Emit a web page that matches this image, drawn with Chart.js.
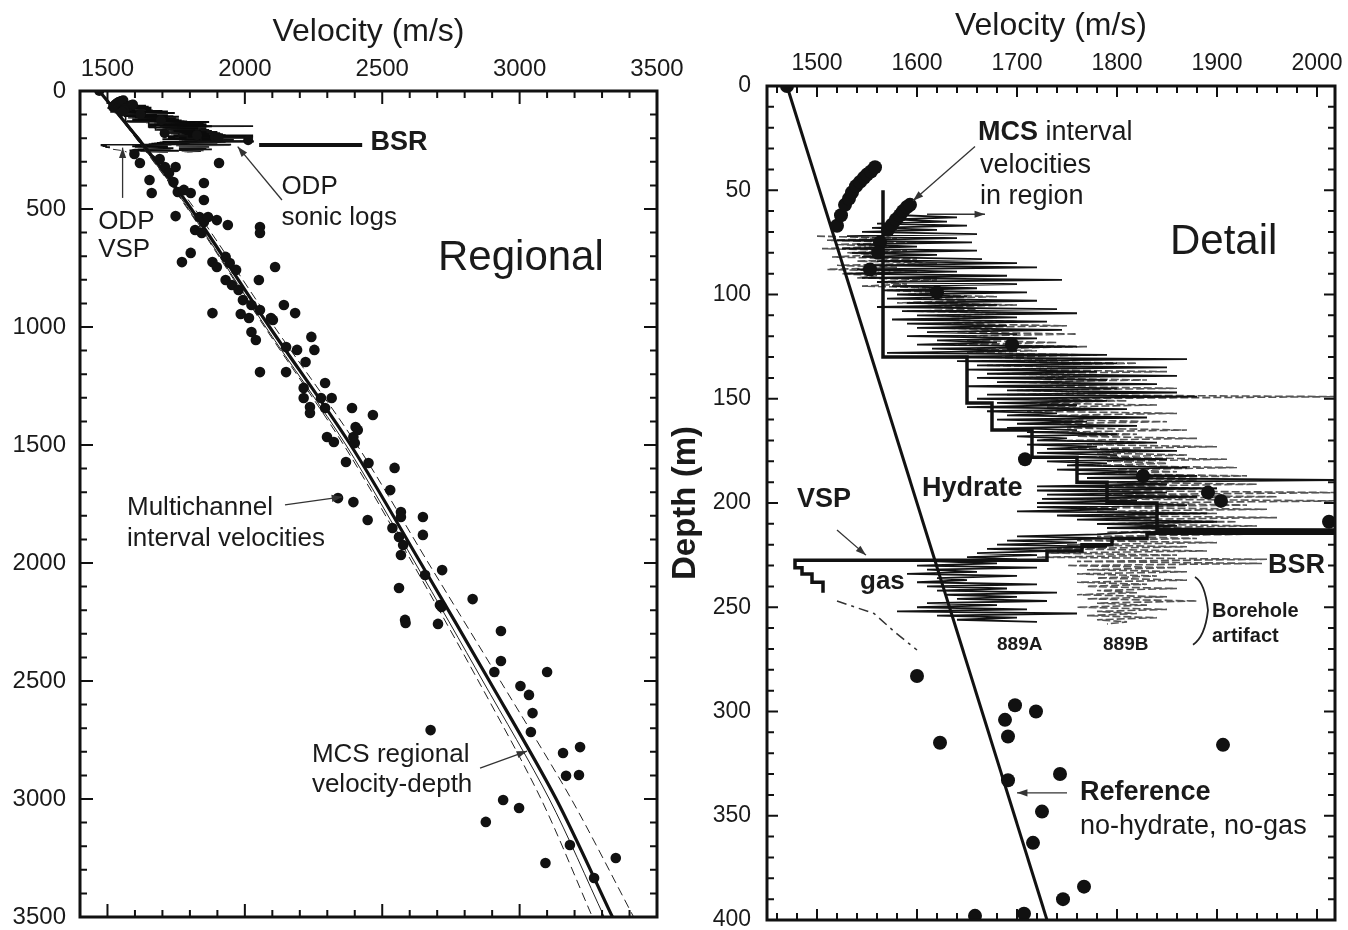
<!DOCTYPE html>
<html><head><meta charset="utf-8">
<script src="https://cdn.jsdelivr.net/npm/chart.js@4.4.1/dist/chart.umd.min.js"></script>
<style>
html,body{margin:0;padding:0;background:#fff;width:1348px;height:930px;overflow:hidden}
#c1{position:absolute;left:0;top:0}
#c2{position:absolute;left:660px;top:0}
</style></head><body>
<canvas id="c1" width="700" height="930"></canvas>
<canvas id="c2" width="688" height="930"></canvas>
<script>
// ---------- tick labels ----------
const regTicksX = [1500, 2000, 2500, 3000, 3500];
const regTicksY = [0, 500, 1000, 1500, 2000, 2500, 3000, 3500];
const detTicksX = [1500, 1600, 1700, 1800, 1900, 2000];
const detTicksY = [0, 50, 100, 150, 200, 250, 300, 350, 400];

// ---------- Regional: multichannel interval velocities ----------
const regDotV = [1598,1618,1653,1661,1690,1709,1724,1740,1748,1756,
 1778,1803,1851,1851,1906,1748,1835,1851,1866,1898,
 1938,1819,1843,1803,1771,1882,1898,1930,1945,1968,
 1930,1953,1977,2055,2055,2110,2051,1993,2024,2055,
 2142,2183,1882,1985,2015,2024,2040,2055,2095,2102,
 2150,2150,2190,2221,2242,2253,2214,2214,2237,2237,
 2277,2292,2316,2292,2299,2324,2368,2390,2403,2395,
 2411,2400,2450,2466,2545,2339,2395,2447,2529,2568,
 2568,2648,2537,2561,2648,2576,2568,2656,2718,2561,
 2710,2829,2583,2716,2585,2703,2932,2932,2908,3100,
 3003,3034,3047,3041,2676,3158,3220,3169,3216,2940,
 2998,2877,3183,3094,3350,3271];
const regDotD = [267,305,377,432,288,322,347,386,322,428,
 419,432,390,462,305,530,534,555,534,547,
 568,589,602,686,725,725,746,703,729,758,
 801,822,843,576,602,746,801,886,907,928,
 907,941,941,945,962,1021,1055,1191,962,970,
 1085,1191,1097,1148,1042,1097,1258,1301,1339,1364,
 1301,1237,1301,1343,1466,1487,1572,1343,1424,1466,
 1436,1492,1576,1373,1597,1725,1742,1818,1691,1784,
 1805,1805,1852,1890,1881,1924,1966,2051,2030,2106,
 2178,2153,2241,2186,2254,2258,2288,2415,2462,2462,
 2521,2559,2636,2716,2708,2805,2780,2902,2898,3004,
 3038,3097,3195,3271,3250,3335];

// ---------- Regional: MCS velocity-depth function and bounds ----------
const regCurveD = [0, 250, 500, 1000, 1500, 2000, 2500, 3000, 3500];
const regCurveV = [1470, 1645, 1805, 2090, 2385, 2640, 2890, 3133, 3338];
const regThinV  = [1470, 1638, 1795, 2076, 2368, 2620, 2866, 3108, 3308];
const regLowV   = [1470, 1636, 1792, 2072, 2360, 2610, 2850, 3078, 3265];
const regHighV  = [1470, 1652, 1818, 2108, 2408, 2668, 2930, 3188, 3415];
const bsrMarkV = [2052, 2427];
const bsrMarkD = [229, 229];

// ---------- MCS interval velocities in region (detail) ----------
const mcsShallowV = [1470,1520,1524,1528,1532,1535,1539,1543,1547,1550,1554,1558,
 1571,1575,1579,1583,1586,1590,1593,1563,1561,1553,1620,1695,1708,1826,1891,1904,2012];
const mcsShallowD = [0,67,62,57,54,51,48,46,44,42.5,41,39,
 69,66.5,64,62,60,58,57,75,80,88,99,124,179,187,195,199,209];
const mcsDeepV = [1600,1698,1719,1688,1691,1623,1906,1743,1691,1725,1716,1767,1746,1658,1707];
const mcsDeepD = [283,297,300,304,312,315,316,330,333,348,363,384,390,398,397];

// ---------- Reference (no-hydrate, no-gas) ----------
const refV = [1470, 1730];
const refD = [0, 400];

// ---------- ODP sonic log 889A ----------
const sonicAD = [62,63,64,65,66,67,68,69,70,71,
 72,73,74,75,76,77,78,79,80,81,
 82,83,84,85,86,87,88,89,90,91,
 92,93,94,95,96,97,98,99,100,101,
 102,103,104,105,106,107,108,109,110,111,
 112,113,114,115,116,117,118,119,120,121,
 122,123,124,125,126,127,128,129,130,131,
 132,133,134,135,136,137,138,139,140,141,
 142,143,144,145,146,147,148,149,150,151,
 152,153,154,155,156,157,158,159,160,161,
 162,163,164,165,166,167,168,169,170,171,
 172,173,174,175,176,177,178,179,180,181,
 182,183,184,185,186,187,188,189,190,191,
 192,193,194,195,196,197,198,199,200,201,
 202,203,204,205,206,207,208,209,210,211,
 212,213,214,215,216,217,218,219,220,221,
 222,223,224,225,226,227,228,229,230,231,
 232,233,234,235,236,237,238,239,240,241,
 242,243,244,245,246,247,248,249,250,251,
 252,253,254,255,256,257];
const sonicAV = [1585,1640,1575,1630,1560,1650,1555,1620,1545,1660,
 1530,1640,1520,1655,1540,1600,1525,1660,1535,1620,
 1545,1665,1560,1700,1555,1720,1540,1640,1530,1690,
 1545,1745,1560,1700,1575,1660,1565,1710,1580,1650,
 1570,1720,1590,1680,1560,1740,1585,1760,1600,1700,
 1575,1730,1590,1690,1600,1745,1610,1700,1590,1720,
 1620,1680,1600,1760,1615,1700,1570,1790,1580,1870,
 1640,1800,1660,1850,1650,1780,1670,1860,1660,1790,
 1680,1840,1650,1800,1690,1860,1670,1880,1660,1790,
 1680,1760,1650,1810,1670,1740,1690,1830,1680,1770,
 1700,1820,1690,1760,1710,1800,1700,1750,1720,1840,
 1710,1780,1730,1860,1720,1800,1740,1850,1730,1790,
 1750,1870,1740,1820,1760,1880,1770,2030,1780,1850,
 1720,1900,1720,1850,1730,1880,1725,1820,1720,1870,
 1720,1800,1700,1890,1740,1840,1760,1900,1780,1860,
 1790,2030,1820,1780,1700,1800,1690,1760,1680,1790,
 1670,1740,1660,1720,1650,1700,1620,1680,1600,1720,
 1610,1660,1590,1700,1620,1650,1600,1720,1610,1690,
 1620,1740,1630,1700,1640,1730,1610,1680,1600,1710,
 1580,1760,1620,1700,1640,1720];

// ---------- ODP sonic log 889B ----------
const sonicBD = [72,73,74,75,76,77,78,79,80,81,
 82,83,84,85,86,87,88,89,90,91,
 92,93,94,95,96,97,98,99,100,101,
 102,103,104,105,106,107,108,109,110,111,
 112,113,114,115,116,117,118,119,120,121,
 122,123,124,125,126,127,128,129,130,131,
 132,133,134,135,136,137,138,139,140,141,
 142,143,144,145,146,147,148,149,150,151,
 152,153,154,155,156,157,158,159,160,161,
 162,163,164,165,166,167,168,169,170,171,
 172,173,174,175,176,177,178,179,180,181,
 182,183,184,185,186,187,188,189,190,191,
 192,193,194,195,196,197,198,199,200,201,
 202,203,204,205,206,207,208,209,210,211,
 212,213,214,215,216,217,218,219,220,221,
 222,223,224,225,226,227,228,229,230,231,
 232,233,234,235,236,237,238,239,240,241,
 242,243,244,245,246,247,248,249,250,251,
 252,253,254,255,256,257,258];
const sonicBV = [1500,1580,1510,1600,1520,1570,1505,1590,1530,1560,
 1515,1600,1540,1620,1520,1580,1510,1600,1525,1560,
 1540,1620,1560,1590,1545,1640,1570,1620,1590,1680,
 1600,1650,1580,1700,1610,1660,1590,1720,1620,1680,
 1600,1700,1630,1750,1620,1690,1640,1760,1630,1700,
 1650,1740,1640,1770,1660,1720,1650,1780,1670,1740,
 1680,1820,1670,1760,1690,1850,1680,1780,1700,1830,
 1690,1790,1710,1860,1700,1800,1690,2030,1720,1810,
 1700,1840,1730,1790,1710,1860,1740,1810,1720,1850,
 1730,1790,1750,1870,1740,1820,1760,1880,1750,1830,
 1770,1900,1760,1840,1780,1870,1770,1910,1790,1850,
 1780,1920,1800,1860,1790,1930,1810,1880,1800,1940,
 1780,1900,1760,2030,1790,1960,1770,2030,1800,1930,
 1760,1950,1780,1900,1770,1960,1790,1920,1780,1940,
 1800,1900,1790,1930,1780,1880,1760,1900,1750,1870,
 1740,1890,1730,1860,1720,1950,1760,1945,1750,1860,
 1770,1870,1760,1840,1780,1870,1760,1830,1770,1860,
 1780,1820,1760,1850,1770,1880,1780,1830,1760,1850,
 1780,1820,1770,1840,1780,1810,1790];

// ---------- ODP VSP interval velocities ----------
const vspV = [1566,1566,1650,1650,1675,1675,1715,1715,1760,1760,1790,1790,1840,1840,2030,2030,
 1830,1830,1795,1795,1765,1765,1730,1730,1478,1478,1485,1485,1495,1495,1506,1506];
const vspD = [50,130,130,152,152,165,165,178,178,190,190,200,200,213,213,214.5,
 214.5,217,217,220,220,223,223,227.5,227.5,231,231,234,234,238,238,243];
const gasV = [1520, 1557, 1578, 1600];
const gasD = [247, 253, 262, 270.5];

// ---------- annotations (data coordinates) ----------
const leftNotes = [
  {parts:[['BSR',1]], v:2457, d:220, size:27},
  {parts:[['ODP',0]], v:2133, d:407, size:26},
  {parts:[['sonic logs',0]], v:2133, d:538, size:26},
  {parts:[['ODP',0]], v:1466, d:555, size:26},
  {parts:[['VSP',0]], v:1466, d:674, size:26},
  {parts:[['Regional',0]], v:2703, d:708, size:42},
  {parts:[['Multichannel',0]], v:1571, d:1767, size:26},
  {parts:[['interval velocities',0]], v:1571, d:1898, size:26},
  {parts:[['MCS regional',0]], v:2244, d:2814, size:26},
  {parts:[['velocity-depth',0]], v:2244, d:2941, size:26}
];
const leftArrows = [
  {from:[2135,462], to:[1974,236]},
  {from:[1555,453], to:[1555,240]},
  {from:[2146,1754], to:[2354,1720]},
  {from:[2856,2869], to:[3027,2797]}
];
const rightNotes = [
  {parts:[['MCS',1],[' interval',0]], v:1661, d:22.5, size:27},
  {parts:[['velocities',0]], v:1663, d:38, size:27},
  {parts:[['in region',0]], v:1663, d:53, size:27},
  {parts:[['Detail',0]], v:1853, d:75, size:42},
  {parts:[['Hydrate',1]], v:1605, d:193, size:27},
  {parts:[['VSP',1]], v:1480, d:198.5, size:27},
  {parts:[['gas',1]], v:1543, d:238, size:26},
  {parts:[['BSR',1]], v:1951, d:230, size:27},
  {parts:[['Borehole',1]], v:1895, d:252, size:20},
  {parts:[['artifact',1]], v:1895, d:264, size:20},
  {parts:[['889A',1]], v:1680, d:268, size:19},
  {parts:[['889B',1]], v:1786, d:268, size:19},
  {parts:[['Reference',1]], v:1763, d:339, size:27},
  {parts:[['no-hydrate, no-gas',0]], v:1763, d:355, size:27}
];
const rightArrows = [
  {from:[1658,29], to:[1596,55]},
  {from:[1610,61.5], to:[1668,61.5]},
  {from:[1520,213], to:[1549,225]},
  {from:[1750,339], to:[1700,339]}
];
const rightBrace = {v:[1878,1891,1876], d:[235.5,251.5,268]};

// ---------- helpers ----------
const FONT = '"Liberation Sans", Arial, Helvetica, sans-serif';
const INK = '#1a1a1a';
const pts = (V, D) => V.map((v, i) => ({x: v, y: D[i]}));

function dots(V, D, r, order) {
  return {data: pts(V, D), showLine: false, pointRadius: r, pointHoverRadius: r,
    pointBackgroundColor: '#111', pointBorderWidth: 0, order: order};
}
function line(V, D, w, color, dash, order, tension) {
  return {data: pts(V, D), showLine: true, pointRadius: 0, pointHoverRadius: 0,
    borderColor: color, borderWidth: w, borderDash: dash || [], tension: tension || 0, fill: false, order: order};
}
function fixX(h) { return s => { s.height = h; s.paddingLeft = 0; s.paddingRight = 0; }; }
function fixY(w) { return s => { s.width = w; s.paddingTop = 0; s.paddingBottom = 0; }; }
function setTicks(arr) { return s => { s.ticks = arr.map(v => ({value: v})); }; }

function framePlugin(xMaj, yMaj, xMin, yMin, majLen, minLen) {
  return {id: 'frame', afterDatasetsDraw(chart) {
    const {ctx, chartArea: a, scales} = chart;
    const xs = scales.x, ys = scales.y;
    const isMaj = (arr, v) => arr.some(m => Math.abs(m - v) < 1e-6);
    ctx.save();
    ctx.strokeStyle = '#111';
    ctx.lineWidth = 2;
    ctx.beginPath();
    for (let v = Math.ceil(xs.min / xMin) * xMin; v <= xs.max + 1e-6; v += xMin) {
      const p = xs.getPixelForValue(v);
      if (p < a.left + 2 || p > a.right - 2) continue;
      const L = isMaj(xMaj, v) ? majLen : minLen;
      ctx.moveTo(p, a.top); ctx.lineTo(p, a.top + L);
      ctx.moveTo(p, a.bottom); ctx.lineTo(p, a.bottom - L);
    }
    for (let v = Math.ceil(ys.min / yMin) * yMin; v <= ys.max + 1e-6; v += yMin) {
      const p = ys.getPixelForValue(v);
      if (p < a.top + 2 || p > a.bottom - 2) continue;
      const L = isMaj(yMaj, v) ? majLen : minLen;
      ctx.moveTo(a.left, p); ctx.lineTo(a.left + L, p);
      ctx.moveTo(a.right, p); ctx.lineTo(a.right - L, p);
    }
    ctx.stroke();
    ctx.lineWidth = 3;
    ctx.strokeRect(a.left, a.top, a.right - a.left, a.bottom - a.top);
    ctx.restore();
  }};
}

function arrow(ctx, x1, y1, x2, y2) {
  ctx.beginPath(); ctx.moveTo(x1, y1); ctx.lineTo(x2, y2); ctx.stroke();
  const ang = Math.atan2(y2 - y1, x2 - x1), L = 11, w = 0.33;
  ctx.beginPath(); ctx.moveTo(x2, y2);
  ctx.lineTo(x2 - L * Math.cos(ang - w), y2 - L * Math.sin(ang - w));
  ctx.lineTo(x2 - L * Math.cos(ang + w), y2 - L * Math.sin(ang + w));
  ctx.closePath(); ctx.fill();
}

function notesPlugin(notes, arrows, brace) {
  return {id: 'notes', afterDraw(chart) {
    const {ctx, scales} = chart;
    const xs = scales.x, ys = scales.y;
    ctx.save();
    ctx.fillStyle = INK; ctx.strokeStyle = '#333';
    ctx.textBaseline = 'middle'; ctx.textAlign = 'left';
    notes.forEach(n => {
      let px = xs.getPixelForValue(n.v);
      const py = ys.getPixelForValue(n.d);
      n.parts.forEach(([t, b]) => {
        ctx.font = (b ? 'bold ' : '') + n.size + 'px ' + FONT;
        ctx.fillText(t, px, py);
        px += ctx.measureText(t).width;
      });
    });
    ctx.lineWidth = 1.3; ctx.fillStyle = '#333';
    arrows.forEach(a => arrow(ctx, xs.getPixelForValue(a.from[0]), ys.getPixelForValue(a.from[1]),
      xs.getPixelForValue(a.to[0]), ys.getPixelForValue(a.to[1])));
    if (brace) {
      const p = brace.v.map((v, i) => [xs.getPixelForValue(v), ys.getPixelForValue(brace.d[i])]);
      ctx.lineWidth = 1.8; ctx.strokeStyle = '#222';
      ctx.beginPath();
      ctx.moveTo(p[0][0], p[0][1]);
      ctx.quadraticCurveTo(p[1][0] - 3, p[0][1] + 6, p[1][0], p[1][1]);
      ctx.quadraticCurveTo(p[1][0] - 3, p[2][1] - 8, p[2][0], p[2][1]);
      ctx.stroke();
    }
    ctx.restore();
  }};
}

function axisCommon(size, pad) {
  return {font: {family: FONT, size: size, lineHeight: 1}, color: INK, padding: pad,
    maxRotation: 0, autoSkip: false, callback: v => String(v)};
}

// ---------- Regional chart ----------
new Chart(document.getElementById('c1'), {
  type: 'scatter',
  data: {datasets: [
    dots(regDotV, regDotD, 5.3, 0),
    dots(mcsShallowV, mcsShallowD, 5, 0),
    line(regCurveV, regCurveD, 3.2, '#111', null, 1, 0.3),
    line(regThinV, regCurveD, 1, '#222', null, 1, 0.3),
    line(regLowV, regCurveD, 1, '#222', [9, 5], 1, 0.3),
    line(regHighV, regCurveD, 1, '#222', [9, 5], 1, 0.3),
    line(bsrMarkV, bsrMarkD, 4, '#111', null, 1),
    line(vspV, vspD, 1.6, '#111', null, 2),
    line(gasV, gasD, 1, '#333', [8, 4, 2, 4], 2),
    line(sonicAV, sonicAD, 2, '#0a0a0a', null, 3),
    line(sonicBV, sonicBD, 1.8, '#111', null, 4)
  ]},
  options: {
    responsive: false, animation: false, events: [],
    layout: {padding: {left: 0, top: 0, right: 43, bottom: 13}},
    plugins: {legend: {display: false}, tooltip: {enabled: false}},
    scales: {
      x: {type: 'linear', position: 'top', min: 1400, max: 3500,
        afterBuildTicks: setTicks(regTicksX), ticks: axisCommon(24, 9.5),
        grid: {display: false, drawTicks: false}, border: {display: false},
        title: {display: true, text: 'Velocity (m/s)', color: INK,
          font: {family: FONT, size: 32, lineHeight: 1.2}, padding: {top: 13, bottom: 0}},
        afterFit: fixX(91)},
      y: {type: 'linear', reverse: true, min: 0, max: 3500,
        afterBuildTicks: setTicks(regTicksY), ticks: axisCommon(24, 14),
        grid: {display: false, drawTicks: false}, border: {display: false},
        afterFit: fixY(80)}
    }
  },
  plugins: [framePlugin(regTicksX, regTicksY, 100, 100, 13, 7), notesPlugin(leftNotes, leftArrows, null)]
});

// ---------- Detail chart ----------
new Chart(document.getElementById('c2'), {
  type: 'scatter',
  data: {datasets: [
    dots(mcsShallowV, mcsShallowD, 7, 0),
    dots(mcsDeepV, mcsDeepD, 7, 0),
    line(refV, refD, 3, '#111', null, 1),
    line(vspV, vspD, 3.5, '#111', null, 2),
    line(gasV, gasD, 1.5, '#333', [10, 5, 3, 5], 2),
    line(sonicAV, sonicAD, 1.8, '#121212', null, 3),
    line(sonicBV, sonicBD, 1.6, '#555', [8, 3], 4)
  ]},
  options: {
    responsive: false, animation: false, events: [],
    layout: {padding: {left: 0, top: 0, right: 13, bottom: 10}},
    plugins: {legend: {display: false}, tooltip: {enabled: false}},
    scales: {
      x: {type: 'linear', position: 'top', min: 1450, max: 2018,
        afterBuildTicks: setTicks(detTicksX), ticks: axisCommon(23, 11),
        grid: {display: false, drawTicks: false}, border: {display: false},
        title: {display: true, text: 'Velocity (m/s)', color: INK,
          font: {family: FONT, size: 32, lineHeight: 1.2}, padding: {top: 7, bottom: 0}},
        afterFit: fixX(86)},
      y: {type: 'linear', reverse: true, min: 0, max: 400,
        afterBuildTicks: setTicks(detTicksY), ticks: axisCommon(23, 16),
        grid: {display: false, drawTicks: false}, border: {display: false},
        title: {display: true, text: 'Depth (m)', color: INK,
          font: {family: FONT, size: 33, weight: 'bold', lineHeight: 1.2}, padding: {top: 6, bottom: 0}},
        afterFit: fixY(107)}
    }
  },
  plugins: [framePlugin(detTicksX, detTicksY, 20, 10, 11, 7), notesPlugin(rightNotes, rightArrows, rightBrace)]
});
</script>
</body></html>
